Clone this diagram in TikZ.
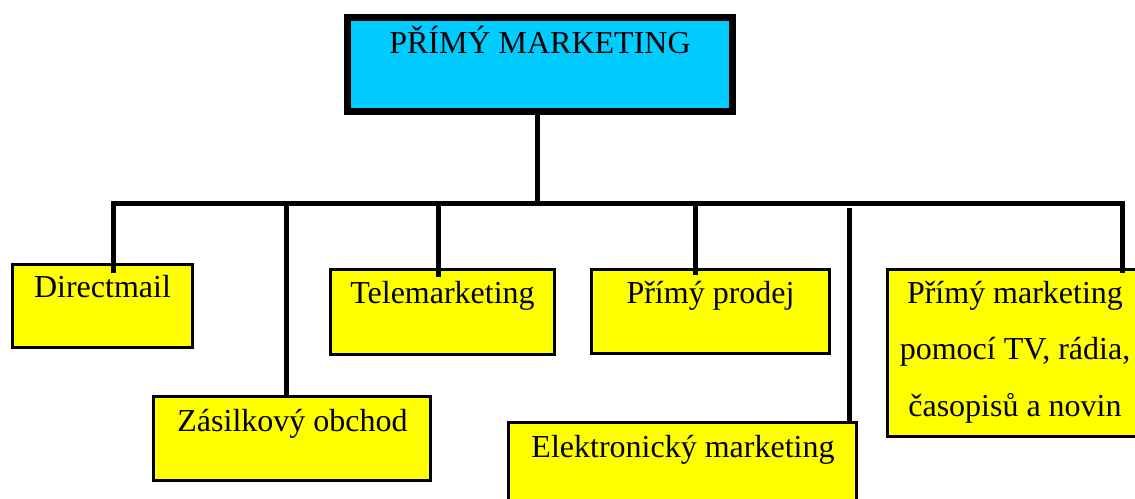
\documentclass[tikz,border=0pt]{standalone}
\usepackage{fontspec}
\setmainfont{Liberation Serif}
\usetikzlibrary{calc}
\definecolor{topcyan}{HTML}{00CCFF}
\definecolor{boxyellow}{HTML}{FFFF00}
\begin{document}
\begin{tikzpicture}[x=1pt,y=-1pt,
  ybox/.style={draw=black, line width=3pt, fill=boxyellow, rectangle, inner sep=0pt, outer sep=0pt, anchor=north west},
  topbox/.style={draw=black, line width=7pt, fill=topcyan, rectangle, inner sep=0pt, outer sep=0pt, anchor=north west},
  lbl/.style={anchor=base, inner sep=0pt, font=\fontsize{32}{56.5}\selectfont, align=center},
  conn/.style={draw=black, line width=5pt, line join=miter}]
\useasboundingbox (0,0) rectangle (1135,498);
\clip (0,0) rectangle (1135,498);
% boxes
\node[topbox, minimum width=385pt, minimum height=93.5pt] (top) at (347.5,17.5) {};
\node[ybox, minimum width=180pt, minimum height=83pt] (dm) at (12.5,264.5) {};
\node[ybox, minimum width=277pt, minimum height=84pt] (zo) at (153.5,396.5) {};
\node[ybox, minimum width=224pt, minimum height=85pt] (te) at (330.5,269.5) {};
\node[ybox, minimum width=238pt, minimum height=84pt] (pp) at (591.5,269.5) {};
\node[ybox, minimum width=348pt, minimum height=85pt] (el) at (508.5,422.5) {};
\node[ybox, minimum width=255pt, minimum height=167pt] (tv) at (887.5,269.5) {};
% texts
\node[lbl] (toptext) at (540,53) {PŘÍMÝ MARKETING};
\node[lbl] (dmtext) at (102.5,297) {Directmail};
\node[lbl] (zotext) at (292.5,431) {Zásilkový obchod};
\node[lbl] (tetext) at (442.5,303) {Telemarketing};
\node[lbl] (pptext) at (710.5,303) {Přímý prodej};
\node[lbl] (eltext) at (683,457) {Elektronický marketing};
\node[lbl] (tvtext) at (1015,416) {Přímý marketing\\pomocí TV, rádia,\\časopisů a novin};
% bus coordinates
\coordinate (busC) at (537,203);
\coordinate (busL) at (113,203);
\coordinate (busR) at (1122,203);
\coordinate (busZo) at (286,203);
\coordinate (busTe) at (438,203);
\coordinate (busPp) at (695,203);
\coordinate (busEl) at (849,207.5);
% connectors
\draw[conn] (top.south -| busC) -- (busC);
\draw[conn] ($(dm.north -| busL)+(0,8)$) -- (busL) -- (busR) -- ($(tv.north -| busR)+(0,3)$);
\draw[conn] (busZo) -- (zo.north -| busZo);
\draw[conn] (busTe) -- ($(te.north -| busTe)+(0,7.5)$);
\draw[conn] (busPp) -- ($(pp.north -| busPp)+(0,5.5)$);
\draw[conn] (busEl) -- (el.north -| busEl);
\end{tikzpicture}
\end{document}
